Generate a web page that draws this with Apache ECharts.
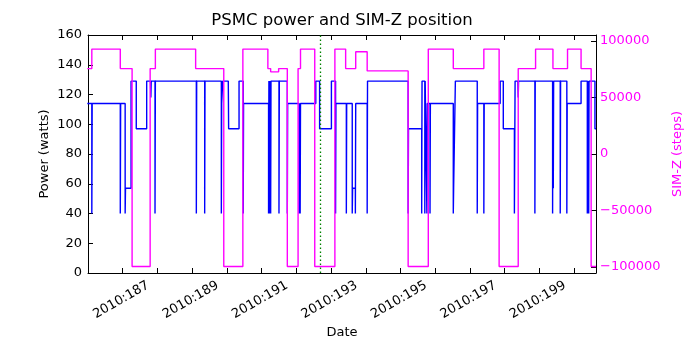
<!DOCTYPE html>
<html><head><meta charset="utf-8">
<script src="https://cdn.jsdelivr.net/npm/echarts@6/dist/echarts.min.js"></script>
<style>html,body{margin:0;padding:0;background:#fff}#c{width:700px;height:350px}</style>
</head><body><div id="c"></div>
<script>
// ---- data (day-of-year 2010) ----
const xLabelDays = [187, 189, 191, 193, 195, 197, 199];
const simzTicks = [-100000, -50000, 0, 50000, 100000];
const nowDay = 192.69;

const powerDays = [185.98,186.11,186.11,186.12,186.93,186.93,186.94,187.07,187.07,187.08,187.24,187.24,187.39,187.39,187.69,187.69,187.80,187.81,187.82,187.93,187.93,187.94,189.12,189.12,189.13,189.36,189.36,189.37,189.84,189.84,189.85,189.88,189.88,190.04,190.05,190.35,190.35,190.47,190.47,190.48,191.20,191.20,191.21,191.23,191.23,191.24,191.26,191.26,191.27,191.50,191.50,191.51,191.74,191.74,191.75,192.08,192.08,192.09,192.11,192.11,192.12,192.56,192.56,192.67,192.67,193.01,193.01,193.13,193.13,193.14,193.44,193.44,193.45,193.61,193.61,193.62,193.70,193.70,193.71,194.04,194.04,194.05,195.22,195.22,195.23,195.61,195.61,195.62,195.70,195.70,195.71,195.76,195.76,195.77,195.85,195.85,195.86,196.52,196.52,196.53,196.58,196.58,197.21,197.21,197.22,197.40,197.40,197.41,197.87,197.87,197.96,197.96,198.28,198.28,198.30,198.38,198.39,198.40,198.87,198.87,198.88,199.38,199.38,199.39,199.40,199.41,199.60,199.60,199.61,199.79,199.79,199.80,200.20,200.20,200.38,200.38,200.39,200.42,200.42,200.43,200.60,200.60,200.63];
const powerWatts = [114,114,40,114,114,40,114,114,40,57,57,129,129,97,97,129,129,118,129,129,40,129,129,40,129,129,40,129,129,40,114,114,129,129,97,97,129,129,40,114,114,40,129,129,40,129,129,40,129,129,40,129,129,40,114,114,40,57,57,40,114,114,129,129,97,97,129,129,40,114,114,40,114,114,40,57,57,40,114,114,40,129,129,40,97,97,40,129,129,40,129,129,40,114,114,40,114,114,40,57,57,129,129,40,114,114,40,114,114,129,129,97,97,40,129,129,118,129,129,40,129,129,40,129,57,129,129,40,129,129,40,114,114,129,129,40,129,129,40,129,129,97,97];

const simzDays = [185.98,186.11,186.11,186.93,186.93,187.27,187.27,187.79,187.79,187.94,187.94,189.10,189.10,189.91,189.91,190.46,190.46,191.18,191.18,191.26,191.26,191.49,191.49,191.74,191.74,192.05,192.05,192.12,192.12,192.53,192.53,193.11,193.11,193.42,193.42,193.71,193.71,194.04,194.04,195.22,195.22,195.80,195.80,196.52,196.52,197.40,197.40,197.84,197.84,198.39,198.39,198.89,198.89,199.39,199.39,199.81,199.81,200.20,200.20,200.49,200.49,200.63];
const simzSteps = [75624,75624,92904,92904,75624,75624,-99612,-99612,75624,75624,92904,92904,75624,75624,-99612,-99612,92904,92904,75624,75624,72750,72750,75624,75624,-99612,-99612,75624,75624,92904,92904,-99612,-99612,92904,92904,75624,75624,90500,90500,73600,73600,-99612,-99612,92904,92904,75624,75624,92904,92904,-99612,-99612,75624,75624,92904,92904,75624,75624,92904,92904,75624,75624,-99612,-99612];

const FONT = 'DejaVu Sans';
const powerData = powerDays.map((d, i) => [d, powerWatts[i]]);
const simzData = simzDays.map((d, i) => [d, simzSteps[i]]);

const chart = echarts.init(document.getElementById('c'), null, {renderer: 'canvas'});
const black = {color: '#000', width: 1};
chart.setOption({
  animation: false,
  backgroundColor: '#fff',
  textStyle: {fontFamily: FONT},
  title: {
    text: 'PSMC power and SIM-Z position',
    left: 337, top: 7, textAlign: 'center',
    textStyle: {fontFamily: FONT, fontSize: 16.5, fontWeight: 'normal', color: '#000'}
  },
  grid: {left: 88, right: 104, top: 35, bottom: 77, containLabel: false},
  xAxis: [{
    type: 'value', min: 186, max: 200.63, interval: 1, position: 'bottom',
    axisLine: {show: true, onZero: false, lineStyle: black},
    axisTick: {show: true, inside: true, length: 5, lineStyle: black},
    axisLabel: {show: false},
    splitLine: {show: false},
    name: 'Date', nameLocation: 'middle', nameGap: 53, nameMoveOverlap: false,
    nameTextStyle: {color: '#000', fontSize: 13, fontFamily: FONT}
  }, {
    type: 'value', min: 186, max: 200.63, interval: 1, position: 'top',
    axisLine: {show: true, onZero: false, lineStyle: black},
    axisTick: {show: true, inside: true, length: 5, lineStyle: black},
    axisLabel: {show: false}, splitLine: {show: false}
  }],
  yAxis: [{
    type: 'value', min: 0, max: 160, interval: 20, position: 'left',
    axisLine: {show: true, onZero: false, lineStyle: black},
    axisTick: {show: true, inside: true, length: 5, lineStyle: black},
    axisLabel: {color: '#000', fontSize: 13, fontFamily: FONT, margin: 6},
    splitLine: {show: false},
    name: 'Power (watts)', nameLocation: 'middle', nameGap: 37, nameRotate: 90, nameMoveOverlap: false,
    nameTextStyle: {color: '#000', fontSize: 13, fontFamily: FONT}
  }, {
    type: 'value', min: -105400, max: 105400, position: 'right',
    axisLine: {show: true, onZero: false, lineStyle: black},
    axisTick: {show: true, inside: true, length: 5, lineStyle: black, customValues: simzTicks},
    axisLabel: {
      customValues: simzTicks,
      formatter: v => v < 0 ? '\u2212' + (-v) : String(v),
      color: '#ff00ff', fontSize: 13, fontFamily: FONT, margin: 4
    },
    splitLine: {show: false},
    name: 'SIM-Z (steps)', nameLocation: 'middle', nameGap: 73, nameRotate: 90,
    nameTextStyle: {color: '#ff00ff', fontSize: 13, fontFamily: FONT}
  }],
  series: [{
    type: 'line', xAxisIndex: 0, yAxisIndex: 0, data: powerData,
    showSymbol: false, symbol: 'none', clip: true,
    lineStyle: {color: '#0000ff', width: 1.4}, itemStyle: {color: '#0000ff'},
    markLine: {
      silent: true, symbol: ['none', 'none'], label: {show: false},
      lineStyle: {color: '#008000', type: [1.5, 2.5], width: 1.3},
      data: [{xAxis: nowDay}]
    }
  }, {
    type: 'line', xAxisIndex: 0, yAxisIndex: 1, data: simzData,
    showSymbol: false, symbol: 'none', clip: true,
    lineStyle: {color: '#ff00ff', width: 1.4}, itemStyle: {color: '#ff00ff'}
  }]
});

// rotated date tick labels, centred on the axis ticks (positions from the axis scale)
const axisY = chart.convertToPixel({yAxisIndex: 0}, 0);
chart.setOption({
  graphic: xLabelDays.map(d => ({
    type: 'text',
    x: chart.convertToPixel({xAxisIndex: 0}, d) - 1.5,
    y: axisY + 27,
    rotation: Math.PI / 6,
    silent: true,
    style: {
      text: '2010:' + d, align: 'center', verticalAlign: 'middle',
      fill: '#000', fontSize: 13, fontFamily: FONT
    }
  }))
});
</script></body></html>
